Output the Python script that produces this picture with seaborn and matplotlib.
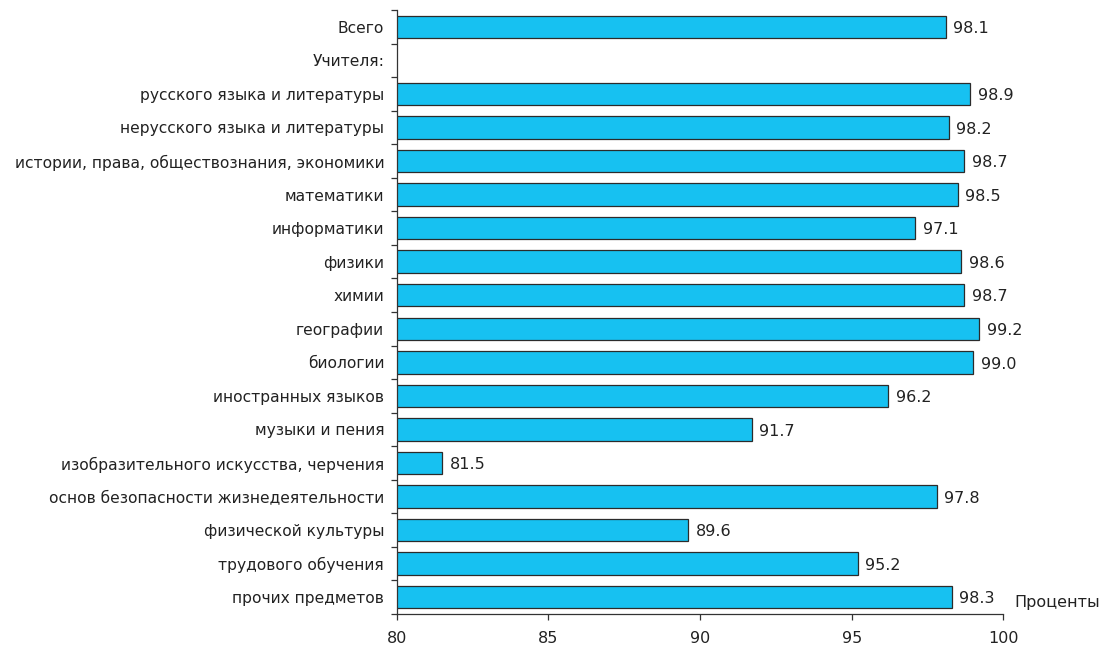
import numpy as np
import pandas as pd
import matplotlib
matplotlib.use("Agg")
import matplotlib.pyplot as plt
from matplotlib.ticker import FixedLocator
import seaborn as sns

categories = [
    "Всего",
    "Учителя:",
    "русского языка и литературы",
    "нерусского языка и литературы",
    "истории, права, обществознания, экономики",
    "математики",
    "информатики",
    "физики",
    "химии",
    "географии",
    "биологии",
    "иностранных языков",
    "музыки и пения",
    "изобразительного искусства, черчения",
    "основ безопасности жизнедеятельности",
    "физической культуры",
    "трудового обучения",
    "прочих предметов",
]
values = [98.1, np.nan, 98.9, 98.2, 98.7, 98.5, 97.1, 98.6, 98.7, 99.2,
          99.0, 96.2, 91.7, 81.5, 97.8, 89.6, 95.2, 98.3]
x_ticks = [80, 85, 90, 95, 100]

df = pd.DataFrame({"cat": categories, "val": values})

sns.set_style("white")
plt.rcParams["font.family"] = ["DejaVu Sans Condensed", "DejaVu Sans"]

fig = plt.figure(figsize=(10.99, 6.48), dpi=100)
ax = fig.add_axes([0.361, 0.0525, 0.552, 0.932])

sns.barplot(data=df, x="val", y="cat", order=categories, orient="h",
            color="#17C1F1", saturation=1, width=0.67,
            edgecolor="#2b2b2b", linewidth=0.9, ax=ax)

ax.set_xlim(80, 100)
ax.set_ylim(len(categories) - 0.5, -0.5)
ax.set_xticks(x_ticks)
ax.set_xlabel("")
ax.set_ylabel("")

# value labels
for i, v in enumerate(values):
    if not np.isnan(v):
        ax.text(v + 0.25, i + 0.05, f"{v:.1f}", va="center", ha="left",
                fontsize=11.5, color="#222222")

ax.yaxis.set_minor_locator(FixedLocator(np.arange(-0.5, len(categories), 1)))
ax.tick_params(axis="y", which="major", length=0, pad=9, labelsize=11.2, colors="#222222")
ax.tick_params(axis="y", which="minor", left=True, length=4, width=0.9, color="#333333")
ax.tick_params(axis="x", bottom=True, length=4, width=0.9, color="#333333",
               pad=8, labelsize=11.5, labelcolor="#222222")

for s in ["top", "right"]:
    ax.spines[s].set_visible(False)
for s in ["left", "bottom"]:
    ax.spines[s].set_color("#333333")
    ax.spines[s].set_linewidth(0.9)

ax.text(1.018, 0.006, "Проценты", transform=ax.transAxes, ha="left", va="bottom",
        fontsize=11.5, color="#222222")

fig.savefig("out.png", dpi=100)
